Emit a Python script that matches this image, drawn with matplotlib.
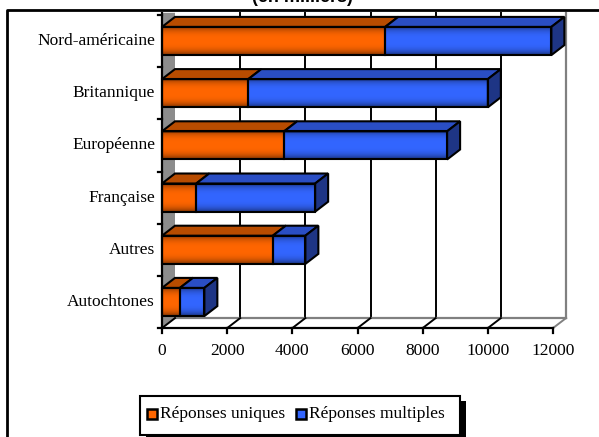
import numpy as np
import matplotlib.pyplot as plt
from matplotlib.patches import Polygon, Rectangle
from matplotlib.lines import Line2D

# Origine des répondants (en milliers), de bas en haut
categories = ['Autochtones', 'Autres', 'Française', 'Européenne',
              'Britannique', 'Nord-américaine']
uniques = [550, 3400, 1050, 3750, 2650, 6850]
multiples = [750, 1000, 3650, 5000, 7350, 5100]
xticks = [0, 2000, 4000, 6000, 8000, 10000, 12000]

plt.rcParams['font.family'] = ['Liberation Serif', 'DejaVu Serif']

W, H = 599, 437
fig = plt.figure(figsize=(W / 100, H / 100), dpi=100)
ax = fig.add_axes([0, 0, 1, 1])
ax.axis('off')

# échelle : pixels par unité en x, pixels par catégorie en y
sx = 391 / 12000
band = 52.2
xlim = (-162 / sx, (W - 162) / sx)
ylim = (-135 / band, (H - 135) / band)

DX = 13 / sx      # profondeur 3D
DY = 10 / band
hh = 0.27         # demi-hauteur des barres
floor = -0.5
top = 5.54
xmax = xticks[-1]
grey = '#808080'

# mur du fond + quadrillage
ax.add_patch(Polygon([(DX, floor + DY), (xmax + DX, floor + DY),
                      (xmax + DX, top), (DX, top)],
                     fc='white', ec='none', zorder=1))
for v in xticks[1:-1]:
    ax.add_line(Line2D([v + DX, v + DX], [floor + DY, top],
                       color='black', lw=1.4, zorder=1.5))
ax.add_line(Line2D([xmax + DX, xmax + DX], [floor + DY, top],
                   color=grey, lw=1.6, zorder=1.5))

# mur de gauche (gris)
ax.add_patch(Polygon([(0, floor), (DX, floor + DY), (DX, top), (0, top)],
                     fc='#8c8c8c', ec='none', zorder=1.2))

# plancher
ax.add_patch(Polygon([(0, floor), (xmax, floor),
                      (xmax + DX, floor + DY), (DX, floor + DY)],
                     fc='white', ec='none', zorder=1.3))
ax.add_line(Line2D([DX, xmax + DX], [floor + DY, floor + DY],
                   color=grey, lw=1.6, zorder=1.6))
for v in xticks:
    c = grey if v == xmax else 'black'
    ax.add_line(Line2D([v, v + DX], [floor, floor + DY],
                       color=c, lw=1.4, zorder=1.6))

# axes avant
ax.add_line(Line2D([0, xmax], [floor, floor], color='black', lw=1.6, zorder=5))
for v in xticks:
    ax.add_line(Line2D([v, v], [floor, floor - 5 / band],
                       color='black', lw=1.6, zorder=5))
    ax.text(v, -0.94, str(v), ha='center', va='center', fontsize=12.5)
ax.add_line(Line2D([0, 0], [floor, top], color='black', lw=1.6, zorder=5))
for k in range(len(categories) + 1):
    ax.add_line(Line2D([0, -4 / sx], [floor + k, floor + k],
                       color='black', lw=1.6, zorder=5))


def degrade(rgb, n=64):
    t = np.linspace(0, 1, n)
    f = 1 - 0.5 * np.abs(2 * t - 1) ** 3
    img = np.array(rgb)[None, :] * f[:, None]
    return img[:, None, :]


front = {'u': (1.0, 0.4, 0.0), 'm': (0.2, 0.4, 1.0)}
topc = {'u': '#b84c00', 'm': '#2a4ec4'}
sidec = {'u': '#8a3a00', 'm': '#1e3585'}

for i, (cat, u, m) in enumerate(zip(categories, uniques, multiples)):
    segs = [(0, u, 'u'), (u, u + m, 'm')]
    for x0, x1, key in segs:
        ax.imshow(degrade(front[key]), extent=(x0, x1, i - hh, i + hh),
                  aspect='auto', interpolation='bilinear', zorder=3)
        ax.add_patch(Rectangle((x0, i - hh), x1 - x0, 2 * hh, fill=False,
                               ec='black', lw=1.5, zorder=4))
        ax.add_patch(Polygon([(x0, i + hh), (x1, i + hh),
                              (x1 + DX, i + hh + DY), (x0 + DX, i + hh + DY)],
                             fc=topc[key], ec='black', lw=1.5, zorder=3.5))
    x1 = u + m
    ax.add_patch(Polygon([(x1, i - hh), (x1 + DX, i - hh + DY),
                          (x1 + DX, i + hh + DY), (x1, i + hh)],
                         fc=sidec['m'], ec='black', lw=1.5, zorder=3.5))
    ax.text(-7 / sx, i, cat, ha='right', va='center', fontsize=12.5)

ax.set_xlim(*xlim)
ax.set_ylim(*ylim)


def fp(x, y):
    return x / W, 1 - y / H


# titre (en partie coupé en haut)
fig.text(*fp(302, 2), '(en milliers)', ha='center', va='baseline',
         fontfamily='Liberation Sans', fontweight='bold', fontsize=13)

# cadre du graphique
fig.add_artist(Line2D([7 / W, 7 / W, 1], [0, 1 - 10 / H, 1 - 10 / H],
                      color='black', lw=2, transform=fig.transFigure))

# légende avec ombre
fig.add_artist(Rectangle(fp(146, 440), 320 / W, 39 / H, fc='black', ec='none',
                         transform=fig.transFigure))
fig.add_artist(Rectangle(fp(140, 435), 320 / W, 39 / H, fc='white', ec='black',
                         lw=1.5, transform=fig.transFigure))
legende = [(147, (1.0, 0.4, 0.0), 'Réponses uniques'),
           (296, (0.2, 0.4, 1.0), 'Réponses multiples')]
for x, c, lab in legende:
    fig.add_artist(Rectangle(fp(x, 419), 10 / W, 10 / H, fc=c, ec='black',
                             lw=1.8, transform=fig.transFigure))
    fig.text(*fp(x + 13, 414), lab, ha='left', va='center', fontsize=12.5)

fig.savefig('out.png', dpi=100)
